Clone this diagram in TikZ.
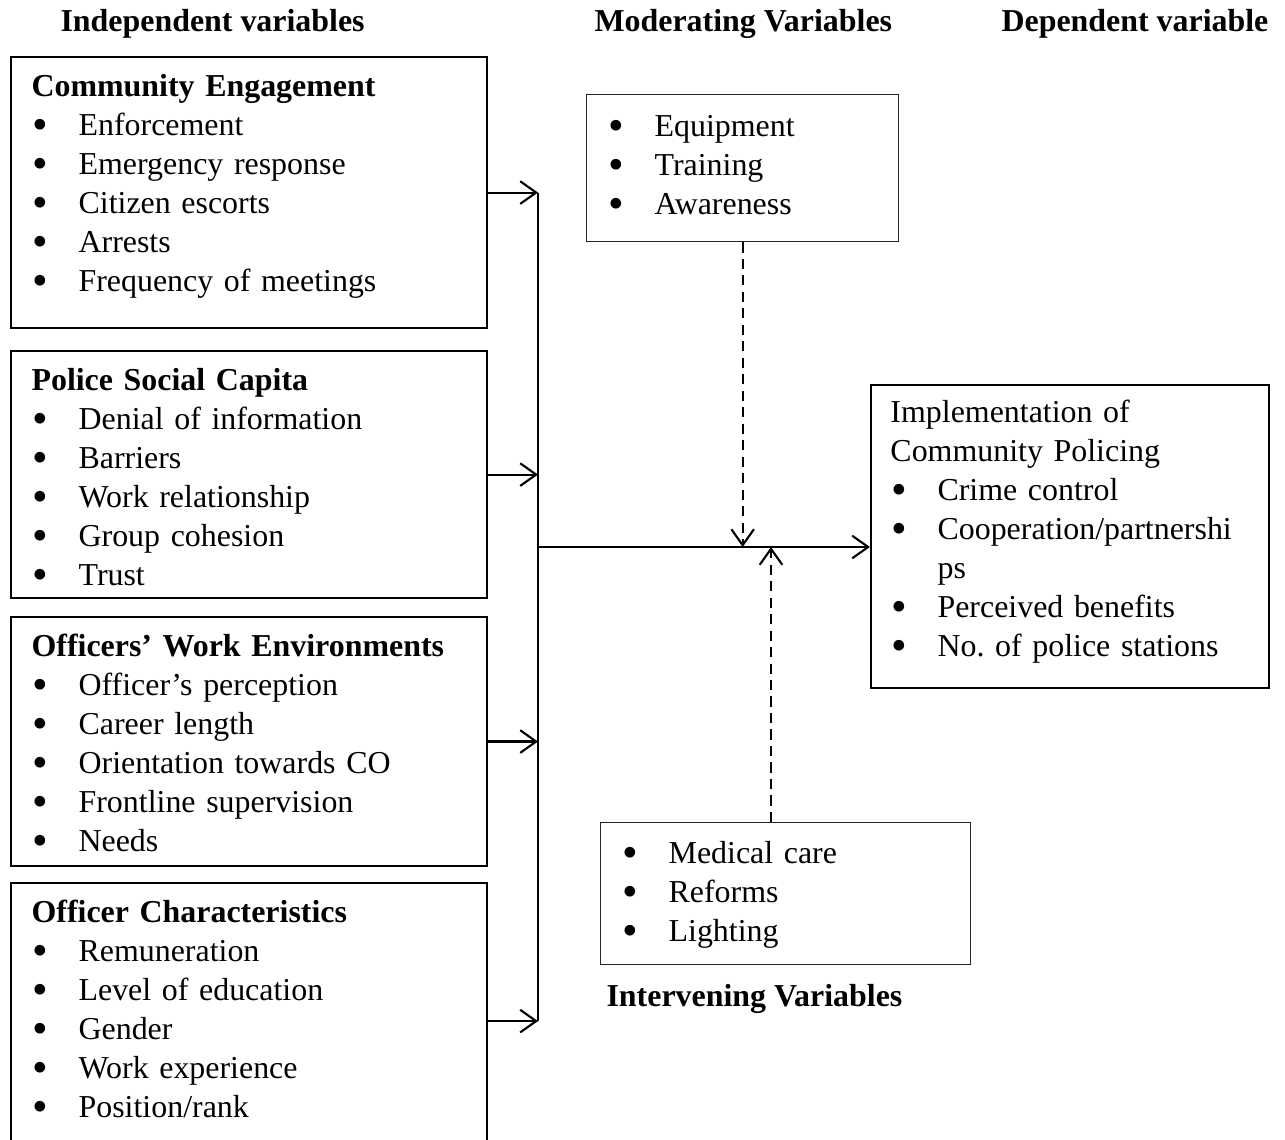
\documentclass[tikz,border=0pt]{standalone}
\usepackage{fontspec}
\setmainfont{Liberation Serif}
\usetikzlibrary{arrows.meta}
\usetikzlibrary{positioning}
\tikzset{>={Straight Barb[length=6pt,width=8.5pt]}}
\tikzstyle{varbox} = [rectangle, draw=black, line width=0.8pt, inner sep=0pt, anchor=north west, minimum width=179pt]
\tikzstyle{thinbox} = [rectangle, draw=black!85, line width=0.5pt, inner sep=0pt, anchor=north west]
\tikzstyle{boxtext} = [inner sep=0pt, text width=170pt, align=left, font=\fontsize{12}{14.66}\selectfont\frenchspacing]
\tikzstyle{heading} = [inner sep=0pt, anchor=base west, font=\fontsize{12}{14.66}\selectfont\bfseries]
\tikzstyle{arrow} = [line width=0.8pt,->]
\tikzstyle{dasharrow} = [line width=0.8pt,->,dash pattern=on 3.8pt off 2.4pt]
\newcommand{\dotmark}{\raisebox{-1.4pt}{\scalebox{1.4}{\textbullet}}}
\newcommand{\firstitm}[1]{\strut\makebox[17.7pt][l]{\hspace{0.5pt}\dotmark}#1}
\newcommand{\itm}[1]{\par\noindent\firstitm{#1}}
\newcommand{\itmcont}[1]{\par\noindent\strut\hspace*{17.7pt}#1}

\begin{document}
\begin{tikzpicture}[x=0.376pt,y=-0.376pt]
\useasboundingbox (0,0) rectangle (1285,1139);
\clip (0,0) rectangle (1285,1139);
% headings
\node (hind) [heading] at (60,32) {Independent variables};
\node (hmod) [heading] at (594,32) {Moderating Variables};
\node (hdep) [heading] at (1001,32) {Dependent variable};
\node (hint) [heading] at (606,1006) {Intervening Variables};
% independent variables
\node (ce) [varbox, minimum height=101.9pt] at (10,56) {};
\node (cetext) [boxtext, below right=4.9pt and 7.9pt of ce.north west] {\strut\textbf{Community Engagement}\itm{Enforcement}\itm{Emergency response}\itm{Citizen escorts}\itm{Arrests}\itm{Frequency of meetings}};
\node (psc) [varbox, minimum height=92.9pt] at (10,350) {};
\node (psctext) [boxtext, below right=4.9pt and 7.9pt of psc.north west] {\strut\textbf{Police Social Capita}\itm{Denial of information}\itm{Barriers}\itm{Work relationship}\itm{Group cohesion}\itm{Trust}};
\node (owe) [varbox, minimum height=93.6pt] at (10,616) {};
\node (owetext) [boxtext, below right=4.9pt and 7.9pt of owe.north west] {\strut\textbf{Officers’ Work Environments}\itm{Officer’s perception}\itm{Career length}\itm{Orientation towards CO}\itm{Frontline supervision}\itm{Needs}};
\node (oc) [varbox, minimum height=103.8pt] at (10,882) {};
\node (octext) [boxtext, below right=4.9pt and 7.9pt of oc.north west] {\strut\textbf{Officer Characteristics}\itm{Remuneration}\itm{Level of education}\itm{Gender}\itm{Work experience}\itm{Position/rank}};
% moderating, dependent, intervening
\node (mod) [thinbox, minimum width=117.3pt, minimum height=55.3pt] at (586,94) {};
\node (modtext) [boxtext, below right=5.6pt and 7.9pt of mod.north west] {\firstitm{Equipment}\itm{Training}\itm{Awareness}};
\node (impl) [varbox, minimum width=149.6pt, minimum height=113.9pt] at (870,384) {};
\node (impltext) [boxtext, below right=4.1pt and 7.5pt of impl.north west] {\strut Implementation of\par\noindent\strut Community Policing\itm{Crime control}\itm{Cooperation/partnershi}\itmcont{ps}\itm{Perceived benefits}\itm{No. of police stations}};
\node (inter) [thinbox, minimum width=139.1pt, minimum height=53.4pt] at (600,822) {};
\node (intertext) [boxtext, below right=5.3pt and 7.9pt of inter.north west] {\firstitm{Medical care}\itm{Reforms}\itm{Lighting}};
% connectors
\coordinate (bus) at (538,547);
\coordinate (intertop) at (771,822);
\draw [line width=0.8pt] (ce.east -| bus) -- (oc.east -| bus);
\draw [arrow] (ce.east) -- (ce.east -| bus);
\draw [arrow] (psc.east) -- (psc.east -| bus);
\draw [arrow] (owe.east) -- (owe.east -| bus);
\draw [arrow] (oc.east) -- (oc.east -| bus);
\draw [arrow] (bus) -- (bus -| impl.west);
\draw [dasharrow] (mod.south) -- (mod.south |- bus);
\draw [dasharrow] (intertop) -- (intertop |- bus);
\end{tikzpicture}
\end{document}
